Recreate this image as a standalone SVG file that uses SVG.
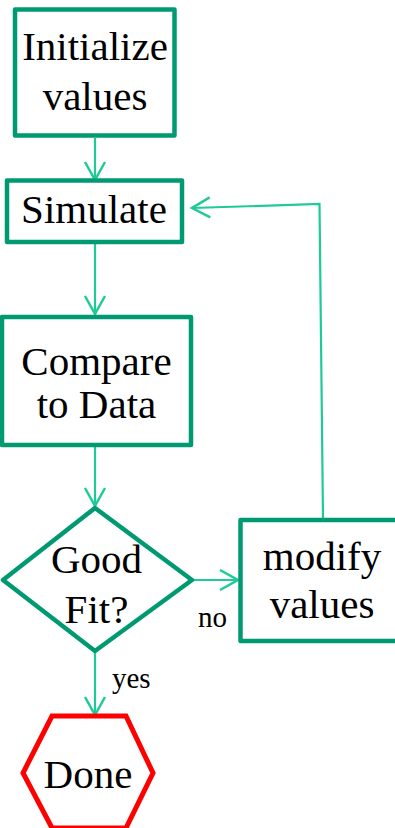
<svg xmlns="http://www.w3.org/2000/svg" width="395" height="828" viewBox="0 0 395 828">
<defs>
<style>
.box{fill:#fff;stroke:#009a72;stroke-width:4.5;stroke-linejoin:round}
.done{fill:#fff;stroke:#ff0000;stroke-width:5}
.conn{fill:none;stroke:#1ecb98;stroke-width:2.2}
.t{font-family:"Liberation Serif","Times New Roman",serif;font-size:41px;fill:#000;text-anchor:middle}
.s{font-family:"Liberation Serif","Times New Roman",serif;font-size:29px;fill:#000}
</style>
<marker id="ah" markerWidth="22" markerHeight="24" refX="19" refY="12" orient="auto" markerUnits="userSpaceOnUse">
<path d="M1,2 L19,12 L1,22" fill="none" stroke="#1ecb98" stroke-width="2.5"/>
</marker>
</defs>
<g id="connectors">
<line class="conn" x1="95" y1="138" x2="95" y2="180" marker-end="url(#ah)"/>
<line class="conn" x1="95" y1="243" x2="95" y2="314" marker-end="url(#ah)"/>
<line class="conn" x1="95" y1="447" x2="95" y2="506" marker-end="url(#ah)"/>
<line class="conn" x1="193" y1="580" x2="238" y2="580" marker-end="url(#ah)"/>
<line class="conn" x1="95" y1="652" x2="95" y2="715" marker-end="url(#ah)"/>
<polyline class="conn" points="323,518 319.5,204 192,208" marker-end="url(#ah)"/>
<text class="s" x="198" y="627">no</text>
<text class="s" x="112" y="688">yes</text>
</g>
<g id="initialize">
<rect class="box" x="15" y="9.5" width="159.5" height="126"/>
<text class="t" x="95" y="60">Initialize</text>
<text class="t" x="95" y="110">values</text>
</g>
<g id="simulate">
<rect class="box" x="7" y="180.5" width="175" height="61.5"/>
<text class="t" x="94" y="223">Simulate</text>
</g>
<g id="compare">
<rect class="box" x="2" y="317" width="189" height="128"/>
<text class="t" x="96.5" y="375">Compare</text>
<text class="t" x="96.5" y="418">to Data</text>
</g>
<g id="goodfit">
<polygon class="box" points="95,508 192,580 95,651 3,580"/>
<text class="t" x="96.5" y="573">Good</text>
<text class="t" x="96.5" y="623">Fit?</text>
</g>
<g id="modify">
<rect class="box" x="240.5" y="520" width="170" height="121"/>
<text class="t" x="322" y="570">modify</text>
<text class="t" x="322" y="618">values</text>
</g>
<g id="done">
<polygon class="done" points="52,716 126,716 153,773 126,828 52,828 23,773"/>
<text class="t" x="88" y="788">Done</text>
</g>
</svg>
